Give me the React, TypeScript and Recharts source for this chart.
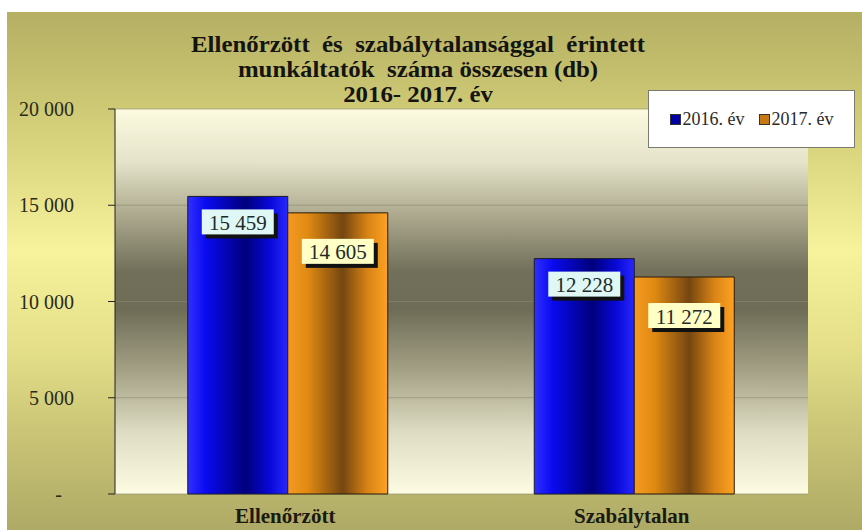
import { BarChart, Bar, XAxis, YAxis, CartesianGrid, LabelList, Legend } from 'recharts'

const categories = ['Ellenőrzött', 'Szabálytalan']
const values2016 = [15459, 12228]
const values2017 = [14605, 11272]
const seriesNames = ['2016. év', '2017. év']
const yTicks = [0, 5000, 10000, 15000, 20000]
const titleLines = [
  'Ellenőrzött  és  szabálytalansággal  érintett',
  'munkáltatók  száma összesen (db)',
  '2016- 2017. év',
]

const data = categories.map((name, i) => ({
  name,
  y2016: values2016[i],
  y2017: values2017[i],
}))

// edges of the category bands, used for the bottom axis tick marks
const bandEdges = categories.map((_, i) => i).concat(categories.length)

const serif = "'Liberation Serif', 'Times New Roman', serif"

const fmt = (v: number) =>
  v === 0 ? '-' : String(v).replace(/\B(?=(\d{3})+(?!\d))/g, ' ')

function YTick(props: any) {
  const { x, y, payload } = props
  const v = payload.value
  return (
    <text
      x={v === 0 ? x - 12 : x}
      y={y}
      textAnchor="end"
      dominantBaseline="central"
      style={{ fontFamily: serif, fontSize: 20 }}
      fill="#2a2a1a"
    >
      {fmt(v)}
    </text>
  )
}

function XTick(props: any) {
  const { x, y, payload } = props
  return (
    <text
      x={x - 3}
      y={y + 14}
      textAnchor="middle"
      dominantBaseline="central"
      style={{ fontFamily: serif, fontSize: 21, fontWeight: 'bold' }}
      fill="#1a1a10"
    >
      {payload.value}
    </text>
  )
}

function makeLabel(fill: string, dy: number) {
  return (props: any) => {
    const { x, y, width, value } = props
    const w = 72
    const h = 25
    const cx = x + width / 2
    const top = y + dy
    return (
      <g>
        <rect x={cx - w / 2 + 4} y={top + 4} width={w} height={h} fill="#111" />
        <rect x={cx - w / 2} y={top} width={w} height={h} fill={fill} />
        <text
          x={cx}
          y={top + h / 2 + 1}
          textAnchor="middle"
          dominantBaseline="central"
          style={{ fontFamily: serif, fontSize: 21 }}
          fill="#1e2a28"
        >
          {fmt(value)}
        </text>
      </g>
    )
  }
}

function LegendBox() {
  const swatches = ['#0000a8', '#c87810']
  return (
    <div
      style={{
        width: 207,
        height: 58,
        background: '#fff',
        border: '1px solid #7a7a70',
        display: 'flex',
        alignItems: 'center',
        justifyContent: 'center',
        gap: 14,
        fontFamily: serif,
        fontSize: 18,
        color: '#2a2a2a',
        boxSizing: 'border-box',
      }}
    >
      {seriesNames.map((n, i) => (
        <span key={n} style={{ display: 'flex', alignItems: 'center' }}>
          <span
            style={{
              display: 'inline-block',
              width: 9,
              height: 9,
              background: swatches[i],
              border: '1px solid #333',
              marginRight: 2,
            }}
          />
          {n}
        </span>
      ))}
    </div>
  )
}

export default function App() {
  return (
    <div style={{ position: 'relative', width: 862, height: 530, overflow: 'hidden' }}>
      <style>{'body{margin:0}'}</style>
      <div
        style={{
          position: 'absolute',
          top: 12,
          left: 7,
          right: 0,
          bottom: 0,
          background:
            'linear-gradient(to bottom, #b4af63 0%, #d3ce78 22%, #f6f39c 46%, #e4df88 65%, #c4bf72 85%, #aeaa66 100%)',
        }}
      />
      <div
        style={{
          position: 'absolute',
          top: 32,
          left: 0,
          width: 836,
          textAlign: 'center',
          fontFamily: serif,
          fontWeight: 'bold',
          fontSize: 23,
          lineHeight: '25px',
          color: '#141410',
          whiteSpace: 'pre',
          transform: 'scaleX(1.08)',
        }}
      >
        {titleLines.map((l) => (
          <div key={l}>{l}</div>
        ))}
      </div>
      <div style={{ position: 'absolute', top: 0, left: 0 }}>
        <BarChart
          width={862}
          height={530}
          data={data}
          margin={{ top: 109, right: 54, bottom: 0, left: 0 }}
          barCategoryGap="21%"
          barGap={0}
        >
          <defs>
            <linearGradient id="plotBg" x1="0" y1="0" x2="0" y2="1">
              <stop offset="0%" stopColor="#fcfadf" />
              <stop offset="14%" stopColor="#e4e2c8" />
              <stop offset="27%" stopColor="#aeab90" />
              <stop offset="42%" stopColor="#72705a" />
              <stop offset="52%" stopColor="#6e6c56" />
              <stop offset="68%" stopColor="#a4a186" />
              <stop offset="84%" stopColor="#dedcc2" />
              <stop offset="100%" stopColor="#fdfbe2" />
            </linearGradient>
            <linearGradient id="blueBar" x1="0" y1="0" x2="1" y2="0">
              <stop offset="0%" stopColor="#3030ff" />
              <stop offset="18%" stopColor="#0a0af0" />
              <stop offset="58%" stopColor="#00007c" />
              <stop offset="82%" stopColor="#0808d8" />
              <stop offset="100%" stopColor="#2828ff" />
            </linearGradient>
            <linearGradient id="orangeBar" x1="0" y1="0" x2="1" y2="0">
              <stop offset="0%" stopColor="#f59a22" />
              <stop offset="20%" stopColor="#e08a12" />
              <stop offset="55%" stopColor="#744610" />
              <stop offset="80%" stopColor="#d88416" />
              <stop offset="100%" stopColor="#ffa222" />
            </linearGradient>
          </defs>
          <CartesianGrid
            vertical={false}
            fill="url(#plotBg)"
            stroke="#8a8870"
            strokeOpacity={0.6}
          />
          <XAxis
            xAxisId="edges"
            type="number"
            domain={[0, categories.length]}
            ticks={bandEdges}
            height={0}
            tick={false}
            tickSize={7}
            tickLine={{ stroke: '#222' }}
            axisLine={{ stroke: '#222' }}
          />
          <XAxis
            dataKey="name"
            height={36}
            tickLine={false}
            axisLine={false}
            tick={<XTick />}
            interval={0}
          />
          <YAxis
            width={115}
            domain={[0, 20000]}
            ticks={yTicks}
            tickSize={7}
            tickMargin={34}
            tickLine={{ stroke: '#222' }}
            axisLine={{ stroke: '#222' }}
            tick={<YTick />}
            interval={0}
          />
          <Legend
            layout="horizontal"
            align="center"
            verticalAlign="middle"
            content={<LegendBox />}
            wrapperStyle={{ position: 'absolute', top: 90, left: 648, width: 207 }}
          />
          <Bar
            dataKey="y2016"
            name={seriesNames[0]}
            fill="url(#blueBar)"
            stroke="#1a1a2a"
            strokeWidth={1}
            isAnimationActive={false}
          >
            <LabelList dataKey="y2016" content={makeLabel('#dff8f6', 13)} />
          </Bar>
          <Bar
            dataKey="y2017"
            name={seriesNames[1]}
            fill="url(#orangeBar)"
            stroke="#2a1a0a"
            strokeWidth={1}
            isAnimationActive={false}
          >
            <LabelList dataKey="y2017" content={makeLabel('#ffffc6', 26)} />
          </Bar>
        </BarChart>
      </div>
    </div>
  )
}
